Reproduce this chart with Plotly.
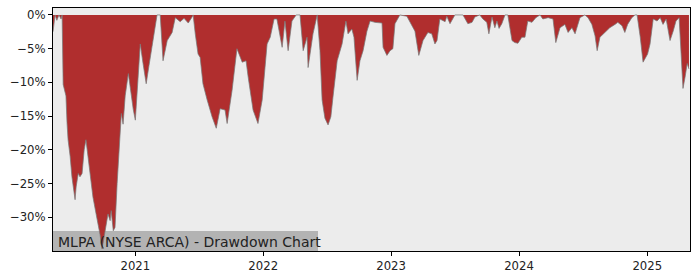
import plotly.graph_objects as go

dates = [
    "2020-05-11", "2020-05-17", "2020-05-22", "2020-05-28", "2020-06-03", "2020-06-06", "2020-06-09",
    "2020-06-17", "2020-06-20", "2020-06-23", "2020-06-29", "2020-07-04", "2020-07-13", "2020-07-16",
    "2020-07-22", "2020-07-27", "2020-08-02", "2020-08-08", "2020-08-13", "2020-08-19", "2020-08-25",
    "2020-09-02", "2020-09-11", "2020-09-17", "2020-09-22", "2020-09-28", "2020-10-04", "2020-10-10",
    "2020-10-15", "2020-10-21", "2020-10-24", "2020-10-30", "2020-11-04", "2020-11-10", "2020-11-16",
    "2020-11-22", "2020-11-27", "2020-12-03", "2020-12-12", "2020-12-20", "2020-12-26",
    "2021-01-01", "2021-01-09", "2021-01-15", "2021-01-23", "2021-02-01", "2021-02-09", "2021-02-18",
    "2021-02-27", "2021-03-04", "2021-03-13", "2021-03-21", "2021-04-02", "2021-04-16", "2021-04-25",
    "2021-05-09", "2021-05-20", "2021-06-01", "2021-06-12", "2021-06-15", "2021-06-21", "2021-06-29",
    "2021-07-05", "2021-07-13", "2021-07-25", "2021-08-08", "2021-08-20", "2021-08-31", "2021-09-14",
    "2021-09-20", "2021-10-04", "2021-10-18", "2021-11-02", "2021-11-13", "2021-11-19", "2021-12-03",
    "2021-12-17", "2021-12-29",
    "2022-01-12", "2022-01-21", "2022-02-01", "2022-02-09", "2022-02-24", "2022-03-04", "2022-03-13",
    "2022-03-24", "2022-04-05", "2022-04-16", "2022-04-25", "2022-05-06", "2022-05-09", "2022-05-23",
    "2022-06-04", "2022-06-12", "2022-06-18", "2022-06-26", "2022-07-05", "2022-07-13", "2022-07-19",
    "2022-07-31", "2022-08-14", "2022-08-25", "2022-08-31", "2022-09-11", "2022-09-17", "2022-09-26",
    "2022-10-04", "2022-10-13", "2022-10-24", "2022-11-02", "2022-11-16", "2022-11-30", "2022-12-06",
    "2022-12-09", "2022-12-20", "2022-12-29",
    "2023-01-06", "2023-01-12", "2023-01-26", "2023-02-15", "2023-02-24", "2023-03-10", "2023-03-21",
    "2023-04-02", "2023-04-16", "2023-04-27", "2023-05-06", "2023-05-12", "2023-05-20", "2023-06-04",
    "2023-06-09", "2023-06-18", "2023-07-02", "2023-07-25", "2023-08-08", "2023-08-20", "2023-08-28",
    "2023-09-11", "2023-09-20", "2023-10-01", "2023-10-07", "2023-10-16", "2023-10-24", "2023-10-30",
    "2023-11-05", "2023-11-13", "2023-11-22", "2023-11-30", "2023-12-12", "2023-12-20", "2023-12-29",
    "2024-01-09", "2024-01-18", "2024-01-26", "2024-02-07", "2024-02-18", "2024-03-01", "2024-03-09",
    "2024-03-24", "2024-04-07", "2024-04-15", "2024-04-27", "2024-05-11", "2024-05-20", "2024-05-31",
    "2024-06-09", "2024-06-23", "2024-07-07", "2024-07-16", "2024-07-27", "2024-08-05", "2024-08-11",
    "2024-08-19", "2024-09-02", "2024-09-16", "2024-10-01", "2024-10-09", "2024-10-21", "2024-10-29",
    "2024-11-06", "2024-11-18", "2024-11-27", "2024-12-03", "2024-12-12", "2024-12-20",
    "2025-01-02", "2025-01-09", "2025-01-18", "2025-01-29", "2025-02-07", "2025-02-15", "2025-02-24",
    "2025-03-07", "2025-03-16", "2025-03-24", "2025-04-02", "2025-04-10", "2025-04-13", "2025-04-19",
    "2025-04-25", "2025-04-30",
]

drawdown = [
    -2.5, 0, -0.8, 0, -0.6, 0, -10.3,
    -12.0, -16, -18.5, -21, -24, -27.4, -25.5,
    -23.5, -24, -23.5, -20, -18.5, -21, -24,
    -27, -29.5, -31, -32.5, -34.7, -33, -31,
    -29.5, -30.5, -29, -32, -31.5, -25, -19,
    -14.6, -16.2, -12, -8.7, -12, -14,
    -15.6, -10, -4.3, -7.2, -10.2, -7.5, -4.8,
    -1.9, 0, 0, -6.8, -3.8, -2.6, -0.4,
    -1.0, -0.5, -1.2, -0.3, 0, -2.8, -5.8,
    -6.3, -10.2, -12.6, -15.1, -16.8, -13.9, -14.1,
    -16.1, -11.2, -5.0, -7.0, -6.8, -9.2, -14.1,
    -16.1, -12.6,
    -4.3, -3.3, -0.6, -0.6, -4.8, -0.9, -5.3,
    -0.9, 0, 0, -5.3, -3.3, -7.8, -2.8,
    0, -5.3, -12.6, -15.3, -16.3, -15.1, -12.2,
    -6.8, -4.3, -0.9, -2.8, -2.1, -3.3, -9.7,
    -6.8, -5.3, -2.4, -0.9, -1.1, -1.1, -1.2,
    -4.8, -6.0, -5.3,
    -5.0, -1.3, 0, -0.2, -1.1, -2.4, -6.0,
    -3.8, -2.6, -2.8, -4.3, -3.8, -0.6, -1.0,
    -0.2, -1.3, 0, 0, -1.3, -1.1, -0.3,
    0, -0.6, -1.1, -2.8, -0.3, -1.9, -0.9,
    -2.0, -1.3, 0, 0, -3.8, -4.1, -4.2,
    -3.3, -3.3, -0.9, -1.1, -0.4, 0, -0.6,
    -0.4, -0.6, -4.1, -1.9, -1.4, -2.6, -1.9,
    -2.8, -0.4, 0, -0.4, -1.4, -3.1, -5.3,
    -3.3, -2.6, -1.9, -1.4, -1.1, -1.6, -2.6,
    -1.4, -0.4, 0, 0, -3.3, -7.0,
    -5.8, -4.3, -0.6, -0.9, -0.4, -1.4, -0.6,
    -3.8, -2.4, -0.9, -0.4, -7.8, -10.9, -9.2,
    -7.2, -8.0,
]

y_tick_vals = [0, -5, -10, -15, -20, -25, -30]
y_tick_text = ["0%", "\u22125%", "\u221210%", "\u221215%", "\u221220%", "\u221225%", "\u221230%"]
x_tick_vals = ["2021-01-01", "2022-01-01", "2023-01-01", "2024-01-01", "2025-01-01"]
x_tick_text = ["2021", "2022", "2023", "2024", "2025"]
title_text = "MLPA (NYSE ARCA) - Drawdown Chart"

fig = go.Figure()
fig.add_trace(go.Scatter(
    x=dates, y=drawdown, mode="lines", fill="tozeroy",
    fillcolor="#b02e2e", line=dict(color="rgba(120,120,120,0.9)", width=0.8),
    hoverinfo="skip", showlegend=False,
))

fig.add_shape(type="rect", xref="paper", yref="paper", x0=0, x1=0.416, y0=0, y1=0.082,
              fillcolor="#b3b3b3", line=dict(width=0), layer="below")
fig.add_annotation(text=title_text, xref="paper", yref="paper", x=0.004, y=0.039,
                   xanchor="left", yanchor="middle", showarrow=False,
                   font=dict(family="DejaVu Sans", size=14, color="#222222"))

axis_common = dict(showline=True, linecolor="black", linewidth=1, mirror=True,
                   ticks="outside", ticklen=4, tickcolor="black", showgrid=False, zeroline=False,
                   tickfont=dict(family="DejaVu Sans", size=11.7, color="#222222"))

fig.update_xaxes(range=["2020-05-11", "2025-05-03"], tickvals=x_tick_vals, ticktext=x_tick_text,
                 **axis_common)
fig.update_yaxes(range=[-35, 1.03], tickvals=y_tick_vals, ticktext=y_tick_text, **axis_common)

fig.update_layout(
    width=700, height=280,
    margin=dict(l=53, r=10, t=7, b=28),
    plot_bgcolor="#ececec", paper_bgcolor="white",
    font=dict(family="DejaVu Sans"),
)

fig.write_html("out.html")
